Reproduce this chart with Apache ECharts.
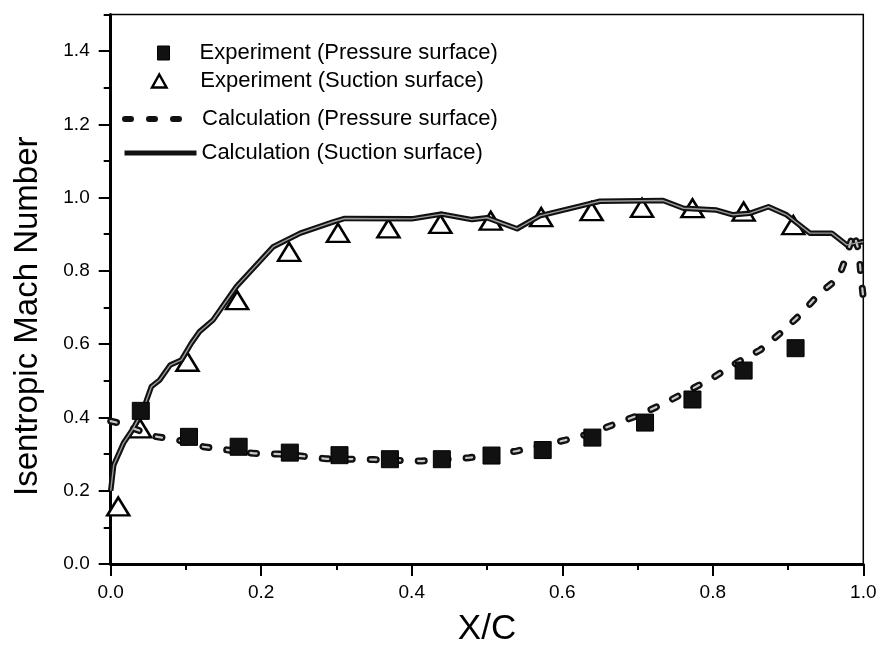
<!DOCTYPE html>
<html>
<head>
<meta charset="utf-8">
<script src="https://cdn.jsdelivr.net/npm/echarts@6/dist/echarts.min.js"></script>
<style>
html,body{margin:0;padding:0;background:#fff;}
#chart{width:882px;height:660px;}
</style>
</head>
<body>
<div id="chart"></div>
<script>
// ---- data ----
const seriesNames = [
  'Experiment (Pressure surface)',
  'Experiment (Suction surface)',
  'Calculation (Pressure surface)',
  'Calculation (Suction surface)'
];
const expPressureX = [0.040, 0.104, 0.170, 0.238, 0.304, 0.371, 0.440, 0.506, 0.574, 0.640, 0.710, 0.773, 0.841, 0.910];
const expPressureY = [0.418, 0.347, 0.320, 0.304, 0.297, 0.286, 0.286, 0.296, 0.311, 0.345, 0.386, 0.449, 0.528, 0.589];

const expSuctionX = [0.010, 0.039, 0.102, 0.168, 0.237, 0.302, 0.369, 0.438, 0.505, 0.572, 0.639, 0.706, 0.773, 0.841, 0.907];
const expSuctionY = [0.157, 0.370, 0.552, 0.720, 0.852, 0.904, 0.916, 0.928, 0.937, 0.947, 0.963, 0.972, 0.971, 0.962, 0.925];

const calcPressureX = [0.000, 0.010, 0.030, 0.059, 0.090, 0.123, 0.156, 0.190, 0.225, 0.256, 0.287, 0.320, 0.350, 0.413, 0.476, 0.539, 0.604, 0.640, 0.670, 0.700, 0.734, 0.765, 0.799, 0.834, 0.863, 0.892, 0.918, 0.942, 0.967, 0.978, 0.987, 0.994, 0.997, 1.000];
const calcPressureY = [0.390, 0.385, 0.370, 0.348, 0.338, 0.320, 0.311, 0.302, 0.300, 0.294, 0.287, 0.286, 0.285, 0.281, 0.290, 0.308, 0.338, 0.358, 0.382, 0.405, 0.437, 0.470, 0.507, 0.552, 0.584, 0.634, 0.684, 0.739, 0.780, 0.843, 0.905, 0.855, 0.784, 0.726];

const calcSuctionX = [0.000, 0.004, 0.017, 0.030, 0.043, 0.054, 0.065, 0.079, 0.094, 0.107, 0.118, 0.136, 0.167, 0.216, 0.252, 0.296, 0.311, 0.400, 0.440, 0.480, 0.500, 0.540, 0.570, 0.630, 0.650, 0.734, 0.761, 0.805, 0.827, 0.849, 0.874, 0.898, 0.929, 0.958, 0.978, 1.000];
const calcSuctionY = [0.200, 0.270, 0.330, 0.370, 0.420, 0.484, 0.502, 0.543, 0.557, 0.602, 0.634, 0.666, 0.757, 0.866, 0.903, 0.934, 0.943, 0.942, 0.955, 0.940, 0.945, 0.915, 0.950, 0.980, 0.990, 0.992, 0.971, 0.966, 0.953, 0.957, 0.975, 0.953, 0.903, 0.903, 0.871, 0.880];

const xTickLabels = ['0.0', '0.2', '0.4', '0.6', '0.8', '1.0'];
const yTickLabels = ['0.0', '0.2', '0.4', '0.6', '0.8', '1.0', '1.2', '1.4'];

const zip = (xs, ys) => xs.map((x, i) => [x, ys[i]]);

const FONT = '"Liberation Sans", Arial, sans-serif';
const chart = echarts.init(document.getElementById('chart'), null, {renderer: 'canvas'});

const dashPattern = [6, 18];
const hiddenSymbol = {color: 'rgba(0,0,0,0)', borderColor: 'rgba(0,0,0,0)', borderWidth: 0};

function legendBox(name, left, top, extra) {
  return Object.assign({
    data: [name],
    left: left,
    top: top,
    orient: 'vertical',
    itemWidth: 72,
    itemHeight: 14,
    selectedMode: false,
    padding: 0,
    textStyle: {fontFamily: FONT, fontSize: 22, color: '#000'}
  }, extra || {});
}

const option = {
  backgroundColor: '#fff',
  animation: false,
  grid: {
    left: 110.7, right: 18.7, top: 14.4, bottom: 96,
    show: true, borderColor: '#000', borderWidth: 1.5, backgroundColor: 'transparent'
  },
  legend: [
    legendBox(seriesNames[0], 157, 42, {
      itemWidth: 62,
      data: [{name: seriesNames[0], icon: 'path://M0,0H12V14H0Z',
              itemStyle: {color: '#111', borderColor: '#000', borderWidth: 1}}]
    }),
    legendBox(seriesNames[1], 150.8, 70, {
      itemHeight: 13,
      data: [{name: seriesNames[1], icon: 'path://M5,0L10,9L0,9Z',
              itemStyle: {color: '#fff', borderColor: '#000', borderWidth: 2.5}}]
    }),
    legendBox(seriesNames[2], 122, 108, {
      lineStyle: {width: 6, color: '#111', type: dashPattern, cap: 'round'},
      itemStyle: hiddenSymbol
    }),
    legendBox(seriesNames[3], 122, 142, {
      lineStyle: {width: 5, color: '#111', type: 'solid'},
      itemStyle: hiddenSymbol
    })
  ],
  xAxis: {
    type: 'value', min: 0, max: 1, interval: 0.2,
    axisLine: {show: true, onZero: false, lineStyle: {color: '#000', width: 3}},
    axisTick: {show: true, length: 12, lineStyle: {color: '#000', width: 2}},
    minorTick: {show: true, splitNumber: 2, length: 6, lineStyle: {color: '#000', width: 2}},
    splitLine: {show: false},
    minorSplitLine: {show: false},
    axisLabel: {
      margin: 19, fontFamily: FONT, fontSize: 19, color: '#000',
      formatter: v => xTickLabels[Math.round(v / 0.2)]
    },
    name: 'X/C', nameLocation: 'middle', nameGap: 48,
    nameTextStyle: {fontFamily: FONT, fontSize: 35, color: '#000'}
  },
  yAxis: [
    {
      type: 'value', min: 0, max: 1.5, interval: 0.2, position: 'left',
      axisLine: {show: true, onZero: false, lineStyle: {color: '#000', width: 3}},
      axisTick: {show: true, length: 12, lineStyle: {color: '#000', width: 2}},
      splitLine: {show: false},
      axisLabel: {
        margin: 21, fontFamily: FONT, fontSize: 19, color: '#000', showMaxLabel: false,
        formatter: v => { const i = Math.round(v / 0.2); return Math.abs(v - i * 0.2) < 1e-6 ? (yTickLabels[i] || '') : ''; }
      },
      name: 'Isentropic Mach Number', nameLocation: 'middle', nameGap: 66, nameRotate: 90,
      nameTextStyle: {fontFamily: FONT, fontSize: 33, color: '#000', padding: [0, 54, 0, 0]}
    },
    {
      type: 'value', min: 0, max: 1.5, interval: 0.1, position: 'left',
      axisLine: {show: false},
      axisTick: {show: true, length: 7, lineStyle: {color: '#000', width: 2}},
      axisLabel: {show: false},
      splitLine: {show: false}
    }
  ],
  series: [
    {
      name: seriesNames[1], type: 'scatter', z: 2,
      data: zip(expSuctionX, expSuctionY),
      symbol: 'triangle', symbolSize: [22, 18],
      itemStyle: {color: '#fff', borderColor: '#000', borderWidth: 2.5, opacity: 1}
    },
    {
      name: seriesNames[2], type: 'line', z: 3,
      data: zip(calcPressureX, calcPressureY),
      showSymbol: false, symbol: 'none', smooth: false,
      lineStyle: {color: '#111', width: 7, type: dashPattern, cap: 'round', join: 'round'},
      itemStyle: {color: '#111'}
    },
    {
      type: 'line', z: 4, silent: true,
      data: zip(calcPressureX, calcPressureY),
      showSymbol: false, symbol: 'none', smooth: false,
      lineStyle: {color: '#c8c8c8', width: 2.2, type: dashPattern, cap: 'round', join: 'round'}
    },
    {
      name: seriesNames[3], type: 'line', z: 3,
      data: zip(calcSuctionX, calcSuctionY),
      showSymbol: false, symbol: 'none', smooth: false,
      lineStyle: {color: '#111', width: 5.5, join: 'round'},
      itemStyle: {color: '#111'}
    },
    {
      type: 'line', z: 4, silent: true,
      data: zip(calcSuctionX, calcSuctionY),
      showSymbol: false, symbol: 'none', smooth: false,
      lineStyle: {color: '#9a9a9a', width: 1.4, join: 'round'}
    },
    {
      name: seriesNames[0], type: 'scatter', z: 5,
      data: zip(expPressureX, expPressureY),
      symbol: 'rect', symbolSize: 17,
      itemStyle: {color: '#111', borderColor: '#000', borderWidth: 1, opacity: 1}
    }
  ]
};
chart.setOption(option);
</script>
</body>
</html>
